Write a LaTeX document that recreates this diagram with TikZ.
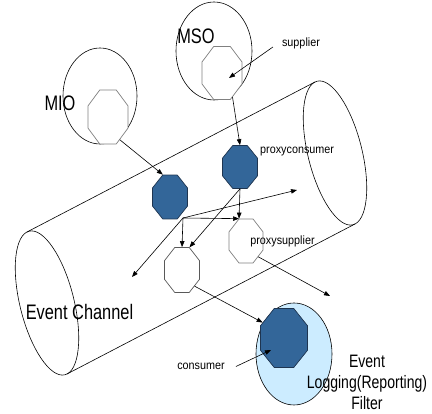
\documentclass[tikz,border=0pt]{standalone}
\usepackage{fontspec}
\setmainfont{Liberation Sans}
\newfontfamily\condfont[FakeStretch=0.78]{Liberation Sans}
\newfontfamily\narrowfont[FakeStretch=0.9]{Liberation Sans}
\newcommand\bigtxt{\condfont\fontsize{21}{24}\selectfont}
\newcommand\midtxt{\condfont\fontsize{18}{21}\selectfont}
\newcommand\smalltxt{\narrowfont\fontsize{12}{14}\selectfont}
\usetikzlibrary{shapes.geometric,arrows.meta}
\definecolor{octblue}{HTML}{336699}
\definecolor{octedge}{HTML}{1F3550}
\definecolor{filterblue}{HTML}{CCECFF}

\begin{document}
\begin{tikzpicture}[x=1pt, y=1pt,
		octobj/.style={regular polygon, regular polygon sides=8, inner sep=0pt, transform shape, draw=gray, fill=white, line width=0.7pt},
		octfull/.style={octobj, draw=octedge, fill=octblue},
		grp/.style={ellipse, draw, inner sep=0pt, line width=0.6pt},
		biglbl/.style={font=\bigtxt, inner sep=0pt},
		smalllbl/.style={font=\smalltxt, inner sep=1pt},
		arr/.style={-{Triangle[length=6pt,width=4.5pt]}, line width=0.6pt}]
	\useasboundingbox (0,0) rectangle (432,414);
	
	% Channel tube
	\draw[line width=0.6pt, rotate around={14:(47,111)}] (47,111) ellipse [x radius=27, y radius=74];
	\draw[line width=0.6pt, rotate around={14:(335,261)}] (335,261) ellipse [x radius=27, y radius=74];
	\draw[line width=0.6pt] (27,182) -- (315,332); % top side
	\draw[line width=0.6pt] (67,40) -- (355,190); % bottom side
	
	% Groups
	\node[grp, minimum width=74pt, minimum height=96pt] (mioGrp) at (100,318) {};
	\node[grp, minimum width=76pt, minimum height=98pt] (msoGrp) at (214,363) {};
	\node[grp, fill=filterblue, minimum width=76pt, minimum height=102pt] (filterGrp) at (294,60) {};
	
	% Objects
	\node[octobj, minimum size=58.4pt, xscale=0.74] (mioObj) at (108,297) {};
	\node[octobj, minimum size=57.4pt, xscale=0.755] (msoObj) at (222,341) {};
	\node[octfull, minimum size=46.5pt, xscale=0.814] (proxyCons) at (240,247) {};
	\node[octfull, minimum size=47.6pt, xscale=0.795] (mioProxy) at (170,217) {};
	\node[octobj, minimum size=47.6pt, xscale=0.773] (proxySupp) at (246,173) {};
	\node[octobj, draw=black!65, minimum size=48.7pt, xscale=0.778] (pushProxy) at (182,144) {};
	\node[octfull, minimum size=63.9pt, xscale=0.797] (consObj) at (284,76) {};
	
	% Labels
	\node[biglbl] (mioLbl) at (60,310.5) {MIO};
	\node[biglbl] (msoLbl) at (196,377.5) {MSO};
	\node[biglbl] (chanLbl) at (79.5,101.5) {Event Channel};
	\node[smalllbl] (supplier) at (301,371) {supplier};
	\node[smalllbl, anchor=west] (proxyConsLbl) at (259,262) {proxyconsumer};
	\node[smalllbl] (proxySuppLbl) at (282.5,172.5) {proxysupplier};
	\node[smalllbl] (consumer) at (201,47.5) {consumer};
	\node[font=\midtxt, align=center, inner sep=0pt] (filterLbl) at (367,31.5) {Event\\Logging(Reporting)\\Filter};
	
	% Free ends
	\coordinate (supTip) at (229,336);
	\coordinate (hub) at (183,196);
	\coordinate (outR) at (297,224);
	\coordinate (outL) at (132,137);
	\coordinate (outS) at (330,118);
	\coordinate (consTip) at (271,64);
	
	% Arrows
	\draw[arr] ([xshift=-8pt,yshift=-4pt]supplier.west) -- (supTip);
	\draw[arr] (msoObj.-60) -- (proxyCons.north);
	\draw[arr] (mioObj.-55) -- (mioProxy.112.5);
	\draw[arr] (proxyCons.south) -- (proxySupp.112.5);
	\draw[arr] (proxyCons.south) -- (pushProxy.67.5);
	\draw[arr] (hub) -- (proxySupp.112.5);
	\draw[arr] (hub) -- (pushProxy.north);
	\draw[arr] (hub) -- (outR);
	\draw[arr] (hub) -- (outL);
	\draw[arr] (proxySupp.-45) -- (outS);
	\draw[arr] (pushProxy.-45) -- (consObj.150);
	\draw[arr] ([xshift=10pt]consumer.east) -- (consTip);
\end{tikzpicture}
\end{document}
